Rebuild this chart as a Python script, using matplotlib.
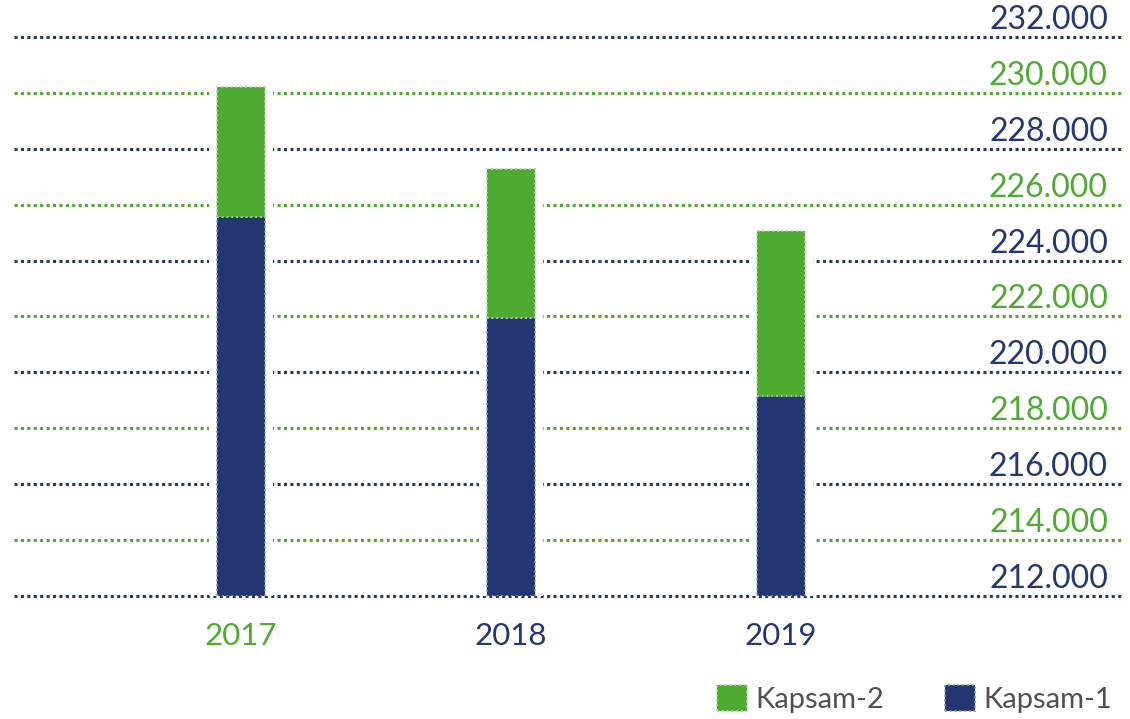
import matplotlib.pyplot as plt
from matplotlib.patches import Patch
from matplotlib.transforms import blended_transform_factory, offset_copy

plt.rcParams['font.family'] = ['Lato', 'DejaVu Sans']

years = ['2017', '2018', '2019']
kapsam1 = [225560, 221950, 219160]
kapsam2 = [4650, 5330, 5900]
base = 212000
ticks = list(range(212000, 232001, 2000))

green = '#4faa32'
navy = '#233872'
year_colors = [green, navy, navy]

fig = plt.figure(figsize=(11.3, 7.19), dpi=100)
ax = fig.add_axes([14 / 1130, 123 / 719, 1108 / 1130, 559 / 719])
ax.set_xlim(-0.841, 3.263)
ax.set_ylim(212000, 232000)
ax.axis('off')

# dotted gridlines, alternating colours from the top
for i, t in enumerate(ticks[::-1]):
    c = navy if i % 2 == 0 else green
    ax.axhline(t, color=c, lw=2.2, ls=(0, (1, 1.1)), zorder=1, clip_on=False)
    tr = offset_copy(blended_transform_factory(ax.transAxes, ax.transData),
                     fig=fig, x=-14, y=8, units='dots')
    ax.text(1, t, f'{t // 1000}.000', color=c, fontsize=23, ha='right',
            va='baseline', transform=tr, zorder=3)

x = range(len(years))
tops = [a + b for a, b in zip(kapsam1, kapsam2)]
# white backing to break the gridlines around the bars
ax.bar(x, [t - base for t in tops], bottom=base, width=0.24, color='white',
       zorder=2)
ax.bar(x, [v - base for v in kapsam1], bottom=base, width=0.18, color=navy,
       edgecolor='#8a96bb', linewidth=1.3, linestyle=':', zorder=3)
ax.bar(x, kapsam2, bottom=kapsam1, width=0.18, color=green,
       edgecolor='#a9d89a', linewidth=1.3, linestyle=':', zorder=3)

for xi, y, c in zip(x, years, year_colors):
    ax.text(xi, base, y, color=c, fontsize=22.5, ha='center', va='center',
            transform=offset_copy(ax.transData, fig=fig, x=0, y=-40,
                                  units='dots'))

handles = [Patch(facecolor=green, edgecolor='#a9d89a', linestyle=':', lw=1.3),
           Patch(facecolor=navy, edgecolor='#8a96bb', linestyle=':', lw=1.3)]
leg = fig.legend(handles, ['Kapsam-2', 'Kapsam-1'], ncol=2, frameon=False,
                 loc='lower right', bbox_to_anchor=(1112 / 1130, 6 / 719),
                 borderaxespad=0, borderpad=0,
                 fontsize=21, handlelength=1.0, handleheight=1.0,
                 handletextpad=0.3, columnspacing=2.1)
for txt in leg.get_texts():
    txt.set_color('#505050')

fig.savefig('out.png', dpi=100)
